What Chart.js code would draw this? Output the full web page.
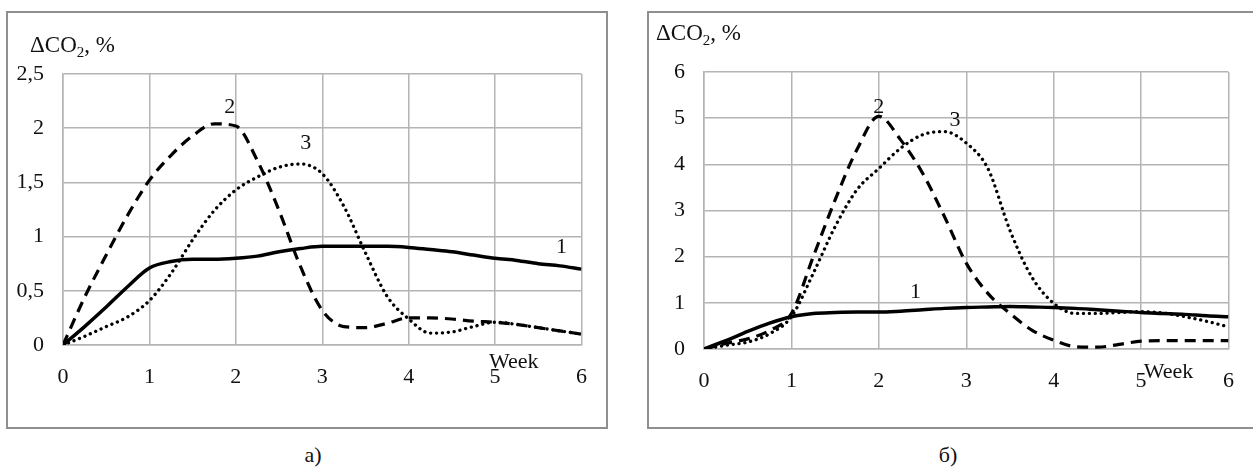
<!DOCTYPE html>
<html>
<head>
<meta charset="utf-8">
<script src="https://cdn.jsdelivr.net/npm/chart.js@4.4.1/dist/chart.umd.min.js"></script>
<style>
  html, body { margin: 0; padding: 0; background: #fff; overflow: hidden; }
  body { width: 1253px; height: 476px; position: relative; font-family: "Liberation Serif", "Times New Roman", serif; color: #111; }
  .panel { position: absolute; top: 11px; height: 418px; border: 2px solid #8f8f8f; box-sizing: border-box; }
  canvas { position: absolute; top: 13px; }
  .ytitle { position: absolute; font-size: 23px; line-height: 23px; white-space: nowrap; }
  .ytitle sub { font-size: 15px; line-height: 0; vertical-align: -5px; }
  .caption { position: absolute; top: 443px; font-size: 22px; line-height: 24px; width: 40px; text-align: center; }
</style>
</head>
<body>
<div class="panel" style="left:6px; width:602px;"></div>
<div class="panel" style="left:647px; width:620px;"></div>
<canvas id="chartA" width="598" height="414" style="left:8px;"></canvas>
<canvas id="chartB" width="604" height="414" style="left:649px;"></canvas>
<div class="ytitle" style="left:30px; top:33px;">ΔCO<sub>2</sub>, %</div>
<div class="ytitle" style="left:656px; top:21px;">ΔCO<sub>2</sub>, %</div>
<div class="caption" style="left:293px;">а)</div>
<div class="caption" style="left:928px;">б)</div>

<script>
// weeks (x values where the curves were read)
const weeks = [0,0.25,0.5,0.75,1,1.25,1.5,1.75,2,2.25,2.5,2.75,3,3.25,3.5,3.75,4,4.25,4.5,4.75,5,5.25,5.5,5.75,6];

// chart а)
const a1 = [0,0.17,0.35,0.54,0.71,0.77,0.79,0.79,0.8,0.82,0.86,0.89,0.91,0.91,0.91,0.91,0.9,0.88,0.86,0.83,0.8,0.78,0.75,0.73,0.7];
const a2 = [0,0.44,0.83,1.2,1.52,1.75,1.93,2.04,2.02,1.7,1.24,0.72,0.32,0.17,0.16,0.2,0.25,0.25,0.24,0.22,0.21,0.19,0.16,0.13,0.1];
const a3 = [0,0.08,0.17,0.26,0.41,0.66,0.97,1.24,1.43,1.55,1.64,1.67,1.58,1.28,0.85,0.45,0.24,0.11,0.12,0.17,0.21,0.19,0.16,0.13,0.1];

// chart б)
const b1 = [0,0.18,0.38,0.56,0.7,0.77,0.79,0.8,0.8,0.82,0.85,0.88,0.9,0.91,0.92,0.91,0.9,0.88,0.85,0.82,0.79,0.77,0.75,0.72,0.7];
const b2 = [0,0.12,0.22,0.4,0.77,2.0,3.23,4.32,5.04,4.53,3.81,2.87,1.86,1.2,0.77,0.41,0.19,0.05,0.04,0.1,0.17,0.18,0.18,0.18,0.18];
const b3 = [0,0.08,0.15,0.33,0.7,1.64,2.65,3.45,3.91,4.35,4.64,4.71,4.46,3.9,2.57,1.56,0.99,0.77,0.77,0.79,0.81,0.78,0.7,0.6,0.48];

// tick labels
const xTicks = ['0','1','2','3','4','5','6'];
const yTicksA = ['0','0,5','1','1,5','2','2,5'];
const yTicksB = ['0','1','2','3','4','5','6'];

const FONT = '"Liberation Serif", "Times New Roman", serif';
const GRID = '#b4b4b4';

function pts(ys) {
  return ys.map((y, i) => ({ x: weeks[i], y: y }));
}

// draws the curve numbers and the "Week" label at data positions
const textLabels = {
  id: 'textLabels',
  afterDraw(chart, args, opts) {
    const ctx = chart.ctx;
    const xs = chart.scales.x, ys = chart.scales.y;
    ctx.save();
    ctx.fillStyle = '#111';
    ctx.font = '22px ' + FONT;
    ctx.textBaseline = 'middle';
    opts.items.forEach(it => {
      ctx.textAlign = it.align || 'center';
      ctx.fillText(it.text, xs.getPixelForValue(it.x), ys.getPixelForValue(it.y));
    });
    ctx.restore();
  }
};

function makeChart(id, s1, s2, s3, yMax, yStep, yLabels, lay, items) {
  const ctx = document.getElementById(id).getContext('2d');
  return new Chart(ctx, {
    type: 'line',
    data: {
      datasets: [
        { label: '1', data: pts(s1), borderColor: '#000', borderWidth: 3.5 },
        { label: '2', data: pts(s2), borderColor: '#000', borderWidth: 3.2, borderDash: [11, 7] },
        { label: '3', data: pts(s3), borderColor: '#000', borderWidth: 3.3, borderDash: [0.1, 5.8], borderCapStyle: 'round' }
      ]
    },
    options: {
      responsive: false,
      animation: false,
      devicePixelRatio: 1,
      layout: { padding: { top: lay.top, right: lay.right, left: 0, bottom: 0 } },
      elements: {
        point: { radius: 0 },
        line: { cubicInterpolationMode: 'monotone', fill: false }
      },
      plugins: {
        legend: { display: false },
        tooltip: { enabled: false },
        textLabels: { items: items }
      },
      scales: {
        x: {
          type: 'linear', min: 0, max: 6,
          grid: { color: GRID, lineWidth: 1.5, drawTicks: false },
          border: { color: GRID, width: 1.5 },
          ticks: {
            stepSize: 1, padding: 19, color: '#111',
            font: { family: FONT, size: 22 },
            callback: v => xTicks[v]
          },
          afterFit: s => { s.height = lay.xh; }
        },
        y: {
          min: 0, max: yMax,
          grid: { color: GRID, lineWidth: 1.5, drawTicks: false },
          border: { color: GRID, width: 1.5 },
          ticks: {
            stepSize: yStep, padding: 19, color: '#111',
            font: { family: FONT, size: 22 },
            callback: v => yLabels[Math.round(v / yStep)]
          },
          afterFit: s => { s.width = 55; }
        }
      }
    },
    plugins: [textLabels]
  });
}

makeChart('chartA', a1, a2, a3, 2.5, 0.5, yTicksA,
  { top: 61, right: 20, xh: 82 },
  [
    { text: '2', x: 1.93, y: 2.19 },
    { text: '3', x: 2.81, y: 1.86 },
    { text: '1', x: 5.77, y: 0.9 },
    { text: 'Week', x: 4.93, y: -0.16, align: 'left' }
  ]);

makeChart('chartB', b1, b2, b3, 6, 1, yTicksB,
  { top: 59, right: 15, xh: 78 },
  [
    { text: '2', x: 2.0, y: 5.24 },
    { text: '3', x: 2.87, y: 4.96 },
    { text: '1', x: 2.42, y: 1.23 },
    { text: 'Week', x: 5.03, y: -0.5, align: 'left' }
  ]);
</script>
</body>
</html>
